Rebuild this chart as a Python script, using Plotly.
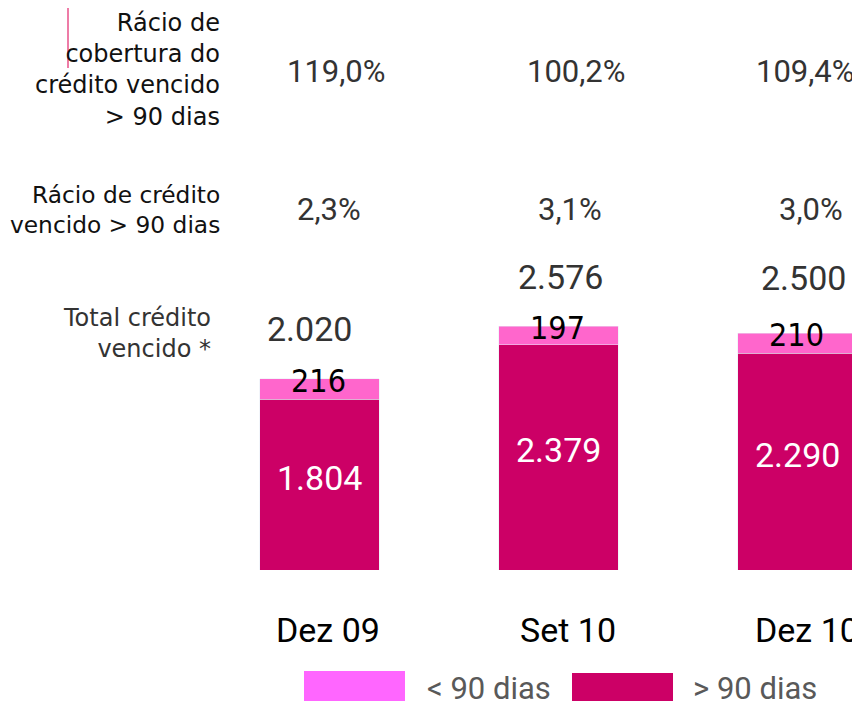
import plotly.graph_objects as go

# ---- data ----
categories = ["Dez 09", "Set 10", "Dez 10"]
over_90 = [1804, 2379, 2290]          # > 90 dias
under_90 = [216, 197, 210]            # < 90 dias
totals = [2020, 2576, 2500]
coverage_ratio = ["119,0%", "100,2%", "109,4%"]
overdue_ratio = ["2,3%", "3,1%", "3,0%"]
over_labels = ["1.804", "2.379", "2.290"]
under_labels = ["216", "197", "210"]
total_labels = ["2.020", "2.576", "2.500"]
row_labels = ["Rácio de<br>cobertura do<br>crédito vencido<br>> 90 dias",
              "Rácio de crédito<br>vencido > 90 dias",
              "Total crédito<br>vencido *"]
legend_labels = ["< 90 dias", "> 90 dias"]

# ---- style ----
OFF = 8                     # page body margin
W, H = 860 - OFF, 701 - OFF
PLOT_BOTTOM = 570           # page pixel of bar baseline
DARK = "#CC0066"
LIGHT = "#FF66CC"
LEGEND_LIGHT = "#FF66FF"
NUM_FONT = "Roboto, Open Sans, sans-serif"
LBL_FONT = "DejaVu Sans, Verdana, sans-serif"
NARROW_FONT = "Liberation Sans Narrow, DejaVu Sans Condensed, sans-serif"


def px2x(px):
    return (px - OFF) / W


def py2y(py):
    return (PLOT_BOTTOM - py) / (PLOT_BOTTOM - OFF)


fig = go.Figure()
fig.add_trace(go.Bar(x=categories, y=over_90, marker_color=DARK, width=0.5,
                     name=legend_labels[1], hoverinfo="skip"))
fig.add_trace(go.Bar(x=categories, y=under_90, marker_color=LIGHT, width=0.5,
                     name=legend_labels[0], hoverinfo="skip"))

ann = []
# row labels (left)
ann.append(dict(text=row_labels[0], x=px2x(222), y=py2y(70), xref="paper", yref="paper",
                xanchor="right", yanchor="middle", align="right",
                font=dict(family=LBL_FONT, size=24, color="#111111"), showarrow=False))
ann.append(dict(text=row_labels[1], x=px2x(222), y=py2y(209), xref="paper", yref="paper",
                xanchor="right", yanchor="middle", align="right",
                font=dict(family=LBL_FONT, size=23.3, color="#111111"), showarrow=False))
ann.append(dict(text=row_labels[2], x=px2x(213), y=py2y(333), xref="paper", yref="paper",
                xanchor="right", yanchor="middle", align="right",
                font=dict(family=LBL_FONT, size=24, color="#333333"), showarrow=False))

cov_shift = [17, 18, 8]
ovd_shift = [10, 11, 13]
tot_xshift = [-10, 2, 6]
tot_yshift = [50, 49, 55]
for i, c in enumerate(categories):
    ann.append(dict(text=coverage_ratio[i], x=c, y=py2y(72), xref="x", yref="paper",
                    xshift=cov_shift[i], showarrow=False, yanchor="middle",
                    font=dict(family=NUM_FONT, size=31, color="#333333")))
    ann.append(dict(text=overdue_ratio[i], x=c, y=py2y(209), xref="x", yref="paper",
                    xshift=ovd_shift[i], showarrow=False, yanchor="middle",
                    font=dict(family=NUM_FONT, size=31, color="#333333")))
    ann.append(dict(text=total_labels[i], x=c, y=totals[i], xref="x", yref="y",
                    xshift=tot_xshift[i], yshift=tot_yshift[i], showarrow=False,
                    yanchor="middle", font=dict(family=NUM_FONT, size=34, color="#333333")))
    ann.append(dict(text=under_labels[i], x=c, y=totals[i], xref="x", yref="y",
                    xshift=-1, yshift=-2, showarrow=False, yanchor="middle",
                    font=dict(family=NARROW_FONT, size=32, color="#000000")))
    ann.append(dict(text=over_labels[i], x=c, y=over_90[i] / 2, xref="x", yref="y",
                    yshift=7, showarrow=False, yanchor="middle",
                    font=dict(family=NUM_FONT, size=34, color="#FFFFFF")))
    ann.append(dict(text=c, x=c, y=py2y(630), xref="x", yref="paper",
                    xshift=9, showarrow=False, yanchor="middle",
                    font=dict(family=NUM_FONT, size=34, color="#000000")))

# legend texts
ann.append(dict(text=legend_labels[0], x=px2x(425), y=py2y(688), xref="paper", yref="paper",
                xanchor="left", yanchor="middle", showarrow=False,
                font=dict(family=NUM_FONT, size=31, color="#595959")))
ann.append(dict(text=legend_labels[1], x=px2x(691), y=py2y(688), xref="paper", yref="paper",
                xanchor="left", yanchor="middle", showarrow=False,
                font=dict(family=NUM_FONT, size=31, color="#595959")))

shapes = [
    dict(type="rect", xref="paper", yref="paper", x0=px2x(304), x1=px2x(405),
         y0=py2y(671), y1=py2y(705), fillcolor=LEGEND_LIGHT, line=dict(width=0)),
    dict(type="rect", xref="paper", yref="paper", x0=px2x(572), x1=px2x(673),
         y0=py2y(673), y1=py2y(705), fillcolor=DARK, line=dict(width=0)),
    dict(type="line", xref="paper", yref="paper", x0=px2x(68), x1=px2x(68),
         y0=py2y(8), y1=py2y(68), line=dict(color="#E8508A", width=1.5)),
]

fig.update_layout(
    width=W, height=H, autosize=False,
    margin=dict(l=0, r=0, t=0, b=701 - PLOT_BOTTOM, pad=0),
    barmode="stack", showlegend=False,
    plot_bgcolor="white", paper_bgcolor="white",
    xaxis=dict(range=[-1.3033, 2.2615], visible=False, fixedrange=True),
    yaxis=dict(range=[0, 5935], visible=False, fixedrange=True),
    annotations=ann, shapes=shapes,
)

fig.write_html("out.html")
